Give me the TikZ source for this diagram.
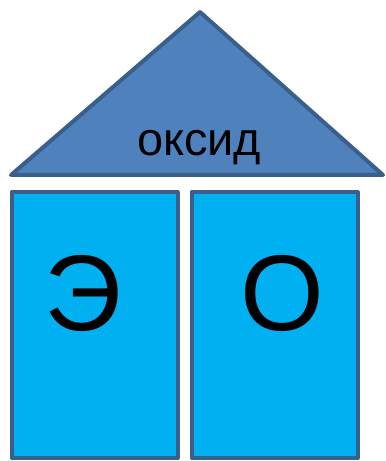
\documentclass[tikz,border=0pt]{standalone}
\usepackage{fontspec}
\setmainfont{Liberation Sans}
\usepackage{tikz}
\usetikzlibrary{positioning}

\definecolor{roofblue}{HTML}{4F81BD}
\definecolor{wallblue}{HTML}{00B0F0}
\definecolor{edgeblue}{HTML}{3A5F8B}

\begin{document}
\begin{tikzpicture}[x=1bp, y=-1bp, line join=round,
  roof/.style={fill=roofblue, draw=edgeblue, line width=4bp},
  wall/.style={fill=wallblue, draw=edgeblue, line width=4bp},
  bigletter/.style={font=\fontsize{108}{110}\selectfont, inner sep=0pt}]

\useasboundingbox (0, 0) rectangle (385, 461);

% --- Roof ---
\draw[roof] (11, 175) -- (200, 12) -- (383, 175) -- cycle;
\node[font=\fontsize{47}{50}\selectfont, inner sep=0pt] (oxide) at (199, 148) {оксид};

% --- Walls ---
\draw[wall] (11.5, 192) rectangle (177.5, 458);
\draw[wall] (191.5, 192) rectangle (357.5, 458);

% --- Letters ---
\node[bigletter] (elem) at (83, 293) {Э};
\node[bigletter] (oxyg) at (282, 293) {О};

\end{tikzpicture}
\end{document}
